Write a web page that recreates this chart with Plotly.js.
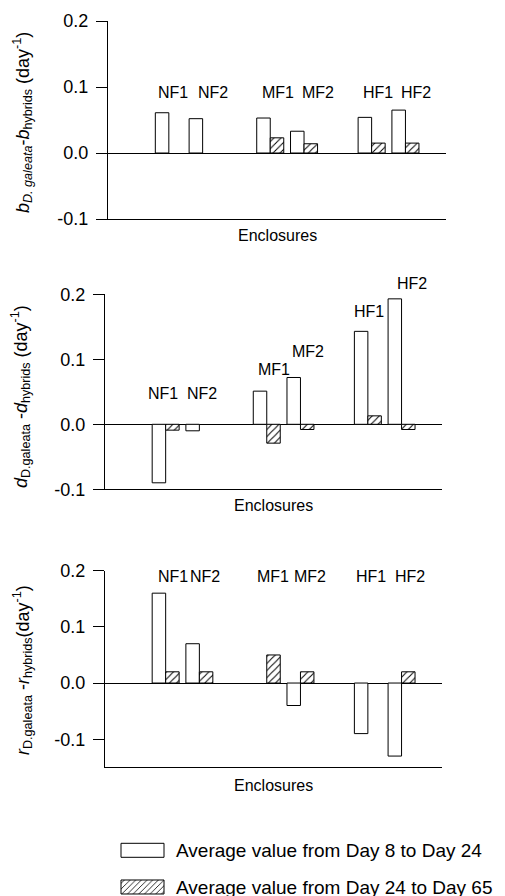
<!DOCTYPE html>
<html><head><meta charset="utf-8">
<script src="https://cdn.plot.ly/plotly-3.0.1.min.js"></script>
<style>html,body{margin:0;padding:0;background:#fff}</style>
</head><body><div id="chart" style="width:505px;height:896px"></div>
<script>
// ---- data ----
const enclosures = ["NF1", "NF2", "MF1", "MF2", "HF1", "HF2"];
const seriesNames = ["Average value from Day 8 to Day 24", "Average value from Day 24 to Day 65"];
// birth-rate difference b
const bEarly = [0.061, 0.052, 0.053, 0.033, 0.054, 0.065];
const bLate  = [null, null, 0.023, 0.014, 0.015, 0.015];
// death-rate difference d
const dEarly = [-0.090, -0.010, 0.051, 0.072, 0.143, 0.193];
const dLate  = [-0.009, null, -0.029, -0.008, 0.013, -0.008];
// growth-rate difference r
const rEarly = [0.16, 0.07, null, -0.04, -0.09, -0.13];
const rLate  = [0.02, 0.02, 0.05, 0.02, null, 0.02];
const tickVals = [-0.1, 0.0, 0.1, 0.2];
const tickText = ["-0.1", "0.0", "0.1", "0.2"];
const xTitle = "Enclosures";

// ---- layout helpers ----
const W = 505, H = 896;
const FONT = "Liberation Sans, Arial, Helvetica, sans-serif";
const xPos = enclosures.map((_, i) => Math.floor(i / 2) * 3 + (i % 2));
const panels = [
  {early: bEarly, late: bLate, yr: [-0.1, 0.2], top: 21, bot: 219, left: 108, right: 446,
   title: "<i>b</i><sub><i>D. galeata</i></sub>-<i>b</i><sub>hybrids</sub> (day<sup>-1</sup>)",
   titleX: 23, titleY: 123, xTitleY: 236,
   labY: [0.091, 0.091, 0.091, 0.091, 0.091, 0.091], labDx: [4, 10, 8, 14, 6, 11]},
  {early: dEarly, late: dLate, yr: [-0.1, 0.2], top: 294.3, bot: 489.3, left: 105, right: 442,
   title: "<i>d</i><sub>D.galeata</sub> -<i>d</i><sub>hybrids</sub> (day<sup>-1</sup>)",
   titleX: 21, titleY: 397, xTitleY: 506,
   labY: [0.048, 0.048, 0.085, 0.112, 0.173, 0.217], labDx: [-3, 3, 7, 8, 1, 10]},
  {early: rEarly, late: rLate, yr: [-0.15, 0.2], top: 570.7, bot: 767.3, left: 105, right: 442,
   title: "<i>r</i><sub>D.galeata</sub> -<i>r</i><sub>hybrids</sub>(day<sup>-1</sup>)",
   titleX: 22, titleY: 670, xTitleY: 785,
   labY: [0.189, 0.189, 0.189, 0.189, 0.189, 0.189], labDx: [7, 6, 6, 10, 3, 8]}
];

const data = [];
const layout = {
  width: W, height: H,
  margin: {l: 0, r: 0, t: 0, b: 0, autoexpand: false},
  paper_bgcolor: "#fff", plot_bgcolor: "#fff",
  font: {family: FONT, color: "#000", size: 16},
  barmode: "overlay",
  annotations: [],
  legend: {x: 0.19, xanchor: "left", y: 0.09, yanchor: "top", traceorder: "normal",
           font: {size: 19, family: FONT}, itemwidth: 60, bgcolor: "rgba(0,0,0,0)",
           tracegroupgap: 0}
};

panels.forEach((p, k) => {
  const xa = "x" + (k ? k + 1 : ""), ya = "y" + (k ? k + 1 : "");
  const xk = "xaxis" + (k ? k + 1 : ""), yk = "yaxis" + (k ? k + 1 : "");
  const ydom = [(H - p.bot) / H, (H - p.top) / H];
  const xdom = [p.left / W, p.right / W];
  data.push({
    type: "bar", x: xPos, y: p.early, name: seriesNames[0], xaxis: xa, yaxis: ya,
    width: 0.4, offset: -0.4,
    marker: {color: "#fff", line: {color: "#000", width: 1}},
    showlegend: k === 0, hoverinfo: "skip"
  });
  data.push({
    type: "bar", x: xPos, y: p.late, name: seriesNames[1], xaxis: xa, yaxis: ya,
    width: 0.4, offset: 0,
    marker: {color: "#fff", line: {color: "#000", width: 1},
             pattern: {shape: "/", fgcolor: "#000", bgcolor: "#fff", size: 5, solidity: 0.2}},
    showlegend: k === 0, hoverinfo: "skip"
  });
  layout[xk] = {
    domain: xdom, anchor: ya, range: [-1.8, 8.2],
    showgrid: false, zeroline: false, showticklabels: false, ticks: "",
    showline: true, linecolor: "#000", linewidth: 1
  };
  layout[yk] = {
    domain: ydom, anchor: xa, range: p.yr,
    tickvals: tickVals, ticktext: tickText, ticks: "outside", ticklen: 11, tickwidth: 1,
    tickcolor: "#000", tickfont: {size: 18, family: FONT}, ticklabelstandoff: 4,
    showgrid: false, zeroline: true, zerolinecolor: "#000", zerolinewidth: 1,
    showline: true, linecolor: "#000", linewidth: 1
  };
  // axis titles
  layout.annotations.push({
    xref: "paper", yref: "paper", x: p.titleX / W, y: (H - p.titleY) / H,
    text: p.title, textangle: -90, showarrow: false,
    font: {size: 18, family: FONT}, xanchor: "center", yanchor: "middle"
  });
  layout.annotations.push({
    xref: "paper", yref: "paper", x: (xdom[0] + xdom[1]) / 2, y: (H - p.xTitleY) / H,
    text: xTitle, showarrow: false,
    font: {size: 16, family: FONT}, xanchor: "center", yanchor: "middle"
  });
  // enclosure labels (placed in paper space so labels above the axis top stay visible)
  enclosures.forEach((name, i) => {
    const yPaper = ydom[0] + (p.labY[i] - p.yr[0]) / (p.yr[1] - p.yr[0]) * (ydom[1] - ydom[0]);
    layout.annotations.push({
      xref: xa, yref: "paper", x: xPos[i], y: yPaper, xshift: p.labDx[i],
      text: name, showarrow: false, font: {size: 16, family: FONT},
      xanchor: "center", yanchor: "middle"
    });
  });
});

const gd = document.getElementById("chart");
const legendText = {left: 176, centers: [850.3, 887]};
function tweakLegend() {
  gd.querySelectorAll("g.legend [clip-path]").forEach(e => e.removeAttribute("clip-path"));
  gd.querySelectorAll("g.legend g.traces").forEach((tr, i) => {
    const txt = tr.querySelector("text.legendtext");
    if (!txt || i > 1) return;
    let tb = txt.getBoundingClientRect();
    const dx = legendText.left - tb.left;
    const dy = legendText.centers[i] - (tb.top + tb.height / 2);
    if (Math.abs(dx) > 0.5 || Math.abs(dy) > 0.5) {
      tr.setAttribute("transform", (tr.getAttribute("transform") || "") + ` translate(${dx},${dy})`);
      tb = txt.getBoundingClientRect();
    }
    tr.querySelectorAll(".legendpoints path").forEach(pth => {
      const m = pth.getScreenCTM();
      const R = tb.left - 12 - m.e, L = R - 43;
      const cy = legendText.centers[i] - m.f;
      pth.setAttribute("d", `M${L},${cy - 7}H${R}V${cy + 7}H${L}Z`);
    });
  });
}
Plotly.newPlot(gd, data, layout, {staticPlot: true}).then(() => {
  tweakLegend();
  gd.on("plotly_afterplot", tweakLegend);
  setTimeout(tweakLegend, 50);
});
</script>
</body></html>
